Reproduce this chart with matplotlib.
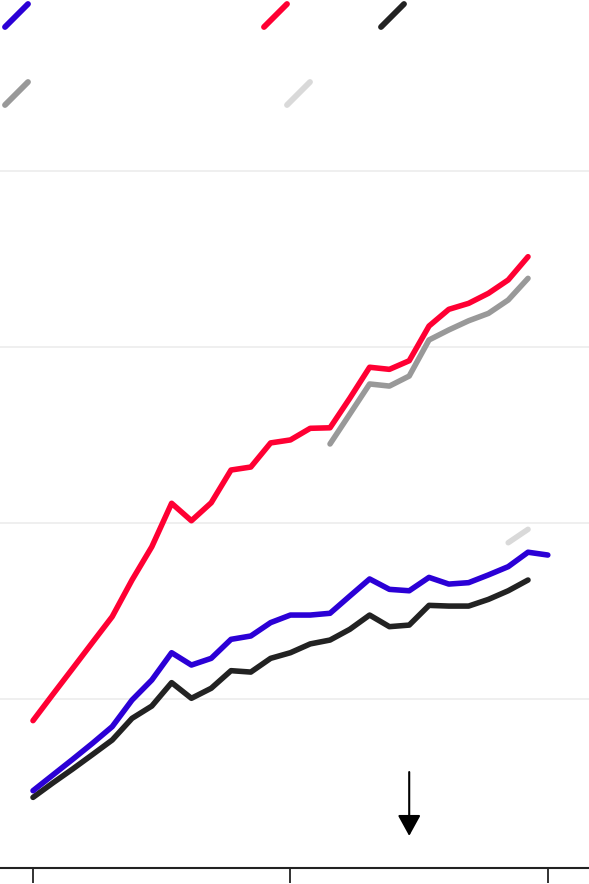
import matplotlib
matplotlib.use("Agg")
import matplotlib.pyplot as plt
from matplotlib.lines import Line2D
import numpy as np

BLUE = "#2b00d6"; RED = "#ff0033"; BLACK = "#222222"
GREY = "#999999"; LIGHT = "#d9d9d9"

years = np.arange(1997, 2024)

blue_vals = [47.9, 56.8, 65.7, 74.8, 84.3, 99.4, 110.8, 126.3, 119.3, 123.1,
             133.9, 135.8, 143.4, 147.7, 147.7, 148.7, 158.5, 168.2, 162.3, 161.5,
             169.1, 165.3, 166.1, 170.5, 175.2, 183.4, 181.8]
red_vals = [87.7, 102.6, 117.3, 132.1, 146.8, 167.6, 186.5, 211.2, 201.3, 211.5,
            230.1, 231.8, 245.5, 247.2, 253.8, 254.1, 270.9, 288.5, 287.3, 292.2,
            311.9, 321.4, 324.8, 330.5, 338.1, 351.3]
black_vals = [44.1, 52.3, 60.2, 68.4, 76.7, 89.0, 96.0, 109.3, 100.4, 106.1,
              116.1, 115.3, 123.1, 126.3, 131.3, 133.5, 139.6, 147.7, 141.1, 142.0,
              153.2, 152.8, 152.8, 156.6, 161.5, 167.6]
grey_years = np.arange(2012, 2023)
grey_vals = [244.9, 261.9, 279.0, 277.8, 283.5, 304.0, 309.7, 314.9, 319.1, 326.7, 339.0]
light_years = [2021, 2022]
light_vals = [188.8, 196.4]

grid_vals = [100, 200, 300, 400]
tick_years = [1997, 2010, 2023]
arrow_year = 2016

fig = plt.figure(figsize=(5.89, 8.84), dpi=100)
ax = fig.add_axes([0, 16/884, 1, (868-160)/884])
ax.set_xlim(1995.333, 2025.08)
ax.set_ylim(3.98, 406.25)

for g in grid_vals:
    ax.axhline(g, color="#ececec", lw=1.2, zorder=0)

kw = dict(lw=4.0, solid_capstyle="round", solid_joinstyle="round")
ax.plot(light_years, light_vals, color=LIGHT, zorder=2, **kw)
ax.plot(grey_years, grey_vals, color=GREY, zorder=2, **kw)
ax.plot(years[:len(black_vals)], black_vals, color=BLACK, zorder=3, **kw)
ax.plot(years, blue_vals, color=BLUE, zorder=4, **kw)
ax.plot(years[:len(red_vals)], red_vals, color=RED, zorder=5, **kw)

ax.annotate("", xy=(arrow_year, 22.2), xytext=(arrow_year, 58.5),
            arrowprops=dict(arrowstyle="-|>,head_length=0.4,head_width=0.22",
                            color="black", lw=1.5,
                            mutation_scale=32, shrinkA=0, shrinkB=0))

for s in ["left", "right", "top"]:
    ax.spines[s].set_visible(False)
ax.spines["bottom"].set_color(BLACK)
ax.spines["bottom"].set_linewidth(1.5)
ax.set_yticks([])
ax.set_xticks(tick_years)
ax.set_xticklabels([])
ax.tick_params(axis="x", direction="out", length=11, width=1.3, color=BLACK)

# legend glyphs (labels are blank in the reference)
legend_items = [(BLUE, 5, 27), (RED, 264, 27), (BLACK, 381, 27),
                (GREY, 5, 105), (LIGHT, 287, 105)]
for col, x0, y0 in legend_items:
    fig.add_artist(Line2D([x0/589, (x0+23)/589], [1-y0/884, 1-(y0-23)/884],
                          color=col, lw=4.2, solid_capstyle="round",
                          transform=fig.transFigure))

fig.savefig("out.png", dpi=100)
